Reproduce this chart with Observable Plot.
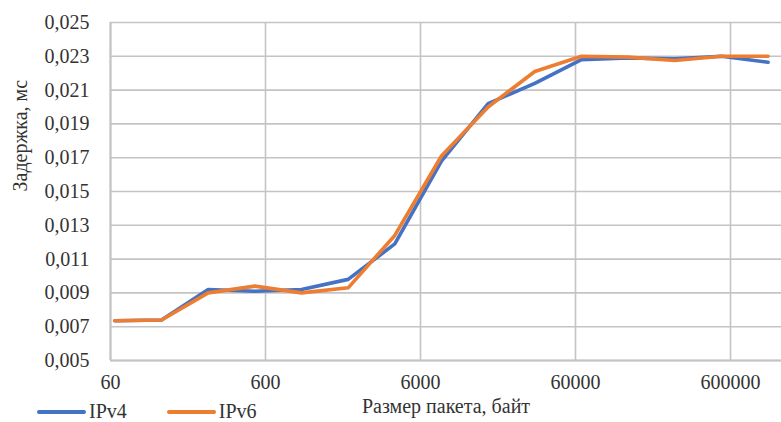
<!DOCTYPE html>
<html>
<head>
<meta charset="utf-8">
<script src="https://cdn.jsdelivr.net/npm/d3@7"></script>
<script src="https://cdn.jsdelivr.net/npm/@observablehq/plot@0.6"></script>
<style>
  html, body { margin: 0; padding: 0; background: #fff; overflow: hidden; }
  #wrap { position: relative; width: 781px; height: 422px; font-family: "Liberation Serif", "Tinos", "Times New Roman", "DejaVu Serif", "Noto Serif", serif; }
  #legend { position: absolute; left: 37px; top: 400px; display: flex; align-items: center; font-size: 20px; color: #333; }
  .item { display: flex; align-items: center; }
  .sw { display: inline-block; width: 49px; height: 4px; margin-right: 3px; border-radius: 2px; }
</style>
</head>
<body>
<div id="wrap"></div>
<script>
// Packet sizes (bytes)
const sizes = [64, 128, 256, 512, 1024, 2048, 4096, 8192, 16384, 32768, 65536, 131072, 262144, 524288, 1048576];
// Delay, ms
const ipv4 = [0.00735, 0.0074, 0.0092, 0.0091, 0.0092, 0.0098, 0.0119, 0.0168, 0.0202, 0.0214, 0.0228, 0.0229, 0.02285, 0.0230, 0.02265];
const ipv6 = [0.00735, 0.0074, 0.0090, 0.0094, 0.0090, 0.0093, 0.0124, 0.0171, 0.0200, 0.0221, 0.0230, 0.02295, 0.02275, 0.0230, 0.0230];
const seriesNames = ["IPv4", "IPv6"];
const seriesColors = ["#4472C4", "#ED7D31"];
const xTicks = [60, 600, 6000, 60000, 600000];
const yTicks = [0.005, 0.007, 0.009, 0.011, 0.013, 0.015, 0.017, 0.019, 0.021, 0.023, 0.025];
const xLabel = "Размер пакета, байт";
const yLabel = "Задержка, мс";

const data = [];
[ipv4, ipv6].forEach((vals, i) => vals.forEach((v, j) => data.push({series: seriesNames[i], size: sizes[j], delay: v})));

const W = 781, H = 422, mL = 110, mR = 0, mT = 22, mB = 62;
// Log axis spans 60 .. 6 000 000 (5 decades); the picture shows only up to the right edge
const decadePx = 155;
const xMax = 60 * Math.pow(10, (W - mL - mR) / decadePx);
const gridColor = "#c4c4c4";
const textColor = "#333";
const serif = "'Liberation Serif', 'Tinos', 'Times New Roman', 'DejaVu Serif', 'Noto Serif', serif";
const fs = 20;

const chart = Plot.plot({
  width: W, height: H,
  marginLeft: mL, marginRight: mR, marginTop: mT, marginBottom: mB,
  style: {fontFamily: serif, fontSize: fs + "px", color: textColor, background: "#fff", overflow: "hidden"},
  x: {type: "log", domain: [60, xMax], axis: null},
  y: {domain: [0.005, 0.025], axis: null},
  color: {domain: seriesNames, range: seriesColors},
  marks: [
    Plot.gridY(yTicks, {stroke: gridColor, strokeOpacity: 1, strokeWidth: 1.6}),
    Plot.gridX(xTicks, {stroke: gridColor, strokeOpacity: 1, strokeWidth: 1.6}),
    Plot.ruleY([0.005], {stroke: gridColor, strokeWidth: 2}),
    Plot.ruleX([60], {stroke: gridColor, strokeWidth: 2}),
    Plot.text(yTicks, {y: d => d, text: d => d3.format(".3f")(d).replace(".", ","), frameAnchor: "left", dx: -21, textAnchor: "end", fontSize: fs, fill: textColor, fontFamily: serif}),
    Plot.text(xTicks, {x: d => d, text: d => String(d), frameAnchor: "bottom", dy: 28, fontSize: fs, fill: textColor, fontFamily: serif}),
    Plot.line(data.filter(d => d.series === seriesNames[0]), {x: "size", y: "delay", stroke: "series", strokeWidth: 3.6, strokeLinejoin: "round", strokeLinecap: "round"}),
    Plot.line(data.filter(d => d.series === seriesNames[1]), {x: "size", y: "delay", stroke: "series", strokeWidth: 3.6, strokeLinejoin: "round", strokeLinecap: "round"}),
    Plot.text([xLabel], {frameAnchor: "bottom", dy: 52, fontSize: fs, fill: textColor, fontFamily: serif}),
    Plot.text([yLabel], {frameAnchor: "left", dx: -90, rotate: -90, fontSize: fs, fill: textColor, fontFamily: serif})
  ]
});

const wrap = document.getElementById("wrap");
wrap.appendChild(chart);

const legend = document.createElement("div");
legend.id = "legend";
seriesNames.forEach((name, i) => {
  const item = document.createElement("div");
  item.className = "item";
  if (i > 0) item.style.marginLeft = "40px";
  const sw = document.createElement("span");
  sw.className = "sw";
  sw.style.background = seriesColors[i];
  const t = document.createElement("span");
  t.textContent = name;
  item.appendChild(sw);
  item.appendChild(t);
  legend.appendChild(item);
});
wrap.appendChild(legend);
</script>
</body>
</html>
